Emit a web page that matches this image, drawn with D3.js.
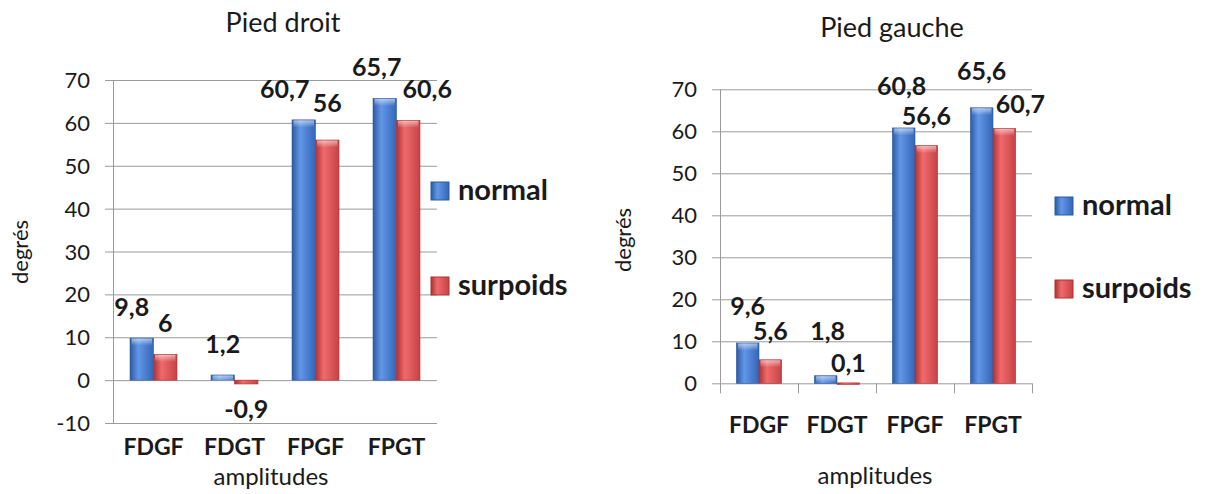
<!DOCTYPE html>
<html>
<head>
<meta charset="utf-8">
<script src="https://cdn.jsdelivr.net/npm/d3@7"></script>
<style>
  body { margin:0; background:#fff; }
  svg text { font-family: Lato, "Open Sans", sans-serif; fill:#1a1a1a; }
</style>
</head>
<body>
<svg width="1212" height="494"></svg>
<script>
// data
const categories = ['FDGF', 'FDGT', 'FPGF', 'FPGT'];
const seriesNames = ['normal', 'surpoids'];
const droitNormal = [9.8, 1.2, 60.7, 65.7];
const droitSurpoids = [6, -0.9, 56, 60.6];
const gaucheNormal = [9.6, 1.8, 60.8, 65.6];
const gaucheSurpoids = [5.6, 0.1, 56.6, 60.7];
const droitTicks = [-10, 0, 10, 20, 30, 40, 50, 60, 70];
const gaucheTicks = [0, 10, 20, 30, 40, 50, 60, 70];

const colors = {normal:['#2c5aa3', '#6296e6', '#3466b8'], surpoids:['#ad3234', '#f06a6c', '#c54244']};

const svg = d3.select('svg');
const defs = svg.append('defs');
seriesNames.forEach(s => {
  let g = defs.append('linearGradient').attr('id', 'g-' + s)
    .attr('x1', 0).attr('x2', 1).attr('y1', 0).attr('y2', 0);
  g.append('stop').attr('offset', '0%').attr('stop-color', colors[s][0]);
  g.append('stop').attr('offset', '35%').attr('stop-color', colors[s][1]);
  g.append('stop').attr('offset', '100%').attr('stop-color', colors[s][2]);
});
// soft highlight on bar tops
let hg = defs.append('linearGradient').attr('id', 'cap')
  .attr('x1', 0).attr('x2', 0).attr('y1', 0).attr('y2', 1);
hg.append('stop').attr('offset', '0%').attr('stop-color', '#fff').attr('stop-opacity', 0.55);
hg.append('stop').attr('offset', '100%').attr('stop-color', '#fff').attr('stop-opacity', 0);

function fmt(v) { return String(v).replace('.', ','); }

// one chart: layout box + data
function chart(o) {
  const g = svg.append('g');
  const x = d3.scaleBand().domain(categories).range([o.x0, o.x1])
    .paddingInner(0.42).paddingOuter(0.21);
  const xs = d3.scaleBand().domain(seriesNames).range([0, x.bandwidth()]);
  const y = d3.scaleLinear().domain(o.domain).range([o.yb, o.yt]);

  // gridlines + y ticks
  g.selectAll('line.grid').data(o.ticks).enter().append('line')
    .attr('x1', o.x0 - 8).attr('x2', o.x1)
    .attr('y1', d => y(d) + .5).attr('y2', d => y(d) + .5)
    .attr('stroke', '#9a9a9a').attr('stroke-width', 1);
  g.selectAll('text.yt').data(o.ticks).enter().append('text')
    .attr('x', o.x0 - 23).attr('y', d => y(d) + 8)
    .attr('text-anchor', 'end').style('font-size', '22px').text(d => d);
  g.append('line').attr('x1', o.x0 + .5).attr('x2', o.x0 + .5)
    .attr('y1', y(o.domain[0])).attr('y2', y(o.domain[1])).attr('stroke', '#9a9a9a');

  if (o.xticks) {
    const step = x.step();
    g.selectAll('line.xt').data(d3.range(categories.length + 1)).enter().append('line')
      .attr('x1', i => o.x0 + i * step + .5).attr('x2', i => o.x0 + i * step + .5)
      .attr('y1', y(0)).attr('y2', y(0) + 10).attr('stroke', '#9a9a9a');
  }

  // bars
  const rows = [];
  categories.forEach((c, i) => {
    rows.push({c, s:'normal', v:o.normal[i], i, k:0});
    rows.push({c, s:'surpoids', v:o.surpoids[i], i, k:1});
  });
  g.selectAll('rect.bar').data(rows).enter().append('rect')
    .attr('x', d => x(d.c) + xs(d.s))
    .attr('y', d => y(Math.max(0, d.v)))
    .attr('width', xs.bandwidth())
    .attr('height', d => Math.max(1.5, Math.abs(y(d.v) - y(0))))
    .attr('fill', d => 'url(#g-' + d.s + ')')
    .attr('stroke', d => colors[d.s][0]).attr('stroke-width', 0.6);
  g.selectAll('rect.cap').data(rows.filter(d => d.v > 1)).enter().append('rect')
    .attr('x', d => x(d.c) + xs(d.s) + 1.5)
    .attr('y', d => y(d.v) + 0.5)
    .attr('width', xs.bandwidth() - 3).attr('height', 7)
    .attr('fill', 'url(#cap)');

  // value labels
  g.selectAll('text.val').data(rows).enter().append('text')
    .attr('x', d => x(d.c) + xs(d.s) + xs.bandwidth() / 2 + o.nudge[d.k][d.i][0])
    .attr('y', d => (d.v < 0 ? y(d.v) + 34 : y(d.v) - 22) + o.nudge[d.k][d.i][1])
    .attr('text-anchor', 'middle').style('font-size', '25px').style('font-weight', 'bold')
    .text(d => fmt(d.v));

  // category labels
  g.selectAll('text.cat').data(categories).enter().append('text')
    .attr('x', d => x(d) + x.bandwidth() / 2).attr('y', o.catY)
    .attr('text-anchor', 'middle').style('font-size', '23px').style('font-weight', 'bold')
    .text(d => d);

  // titles
  g.append('text').attr('x', o.titleX).attr('y', o.titleY).attr('text-anchor', 'middle')
    .style('font-size', '27px').text(o.title);
  g.append('text').attr('x', o.ampX).attr('y', o.ampY).attr('text-anchor', 'middle')
    .style('font-size', '24px').text('amplitudes');
  g.append('text').attr('transform', 'translate(' + o.degX + ',' + o.degY + ') rotate(-90)')
    .attr('text-anchor', 'middle').style('font-size', '22px').text('degrés');

  // legend
  const lg = g.selectAll('g.leg').data(seriesNames).enter().append('g')
    .attr('transform', (d, i) => 'translate(' + o.legX + ',' + o.legY[i] + ')');
  lg.append('rect').attr('x', 0).attr('y', -18).attr('width', 18).attr('height', 18)
    .attr('fill', d => 'url(#g-' + d + ')').attr('stroke', d => colors[d][0]);
  lg.append('text').attr('x', 27).attr('y', 0).style('font-size', '29px')
    .style('font-weight', 'bold').text(d => d);
}

chart({
  title:'Pied droit', normal:droitNormal, surpoids:droitSurpoids, ticks:droitTicks,
  domain:[-10, 70], x0:113, x1:437, yb:423, yt:80, xticks:false,
  catY:455, titleX:283, titleY:32, ampX:271, ampY:485, degX:28, degY:252,
  legX:431, legY:[200, 295],
  nudge:[[[-10, 0], [0, 0], [-19, 0], [-8, 0]], [[0, 0], [0, 0], [0, -6], [19, 0]]]
});

chart({
  title:'Pied gauche', normal:gaucheNormal, surpoids:gaucheSurpoids, ticks:gaucheTicks,
  domain:[0, 70], x0:720, x1:1032, yb:383.3, yt:89.3, xticks:true,
  catY:433, titleX:892, titleY:37, ampX:875, ampY:484, degX:631, degY:240,
  legX:1055, legY:[215, 298],
  nudge:[[[0, -6], [2, -14], [-2, -11], [0, -6]], [[0, 2], [0, 11], [0, 1], [16, 7]]]
});
</script>
</body>
</html>
